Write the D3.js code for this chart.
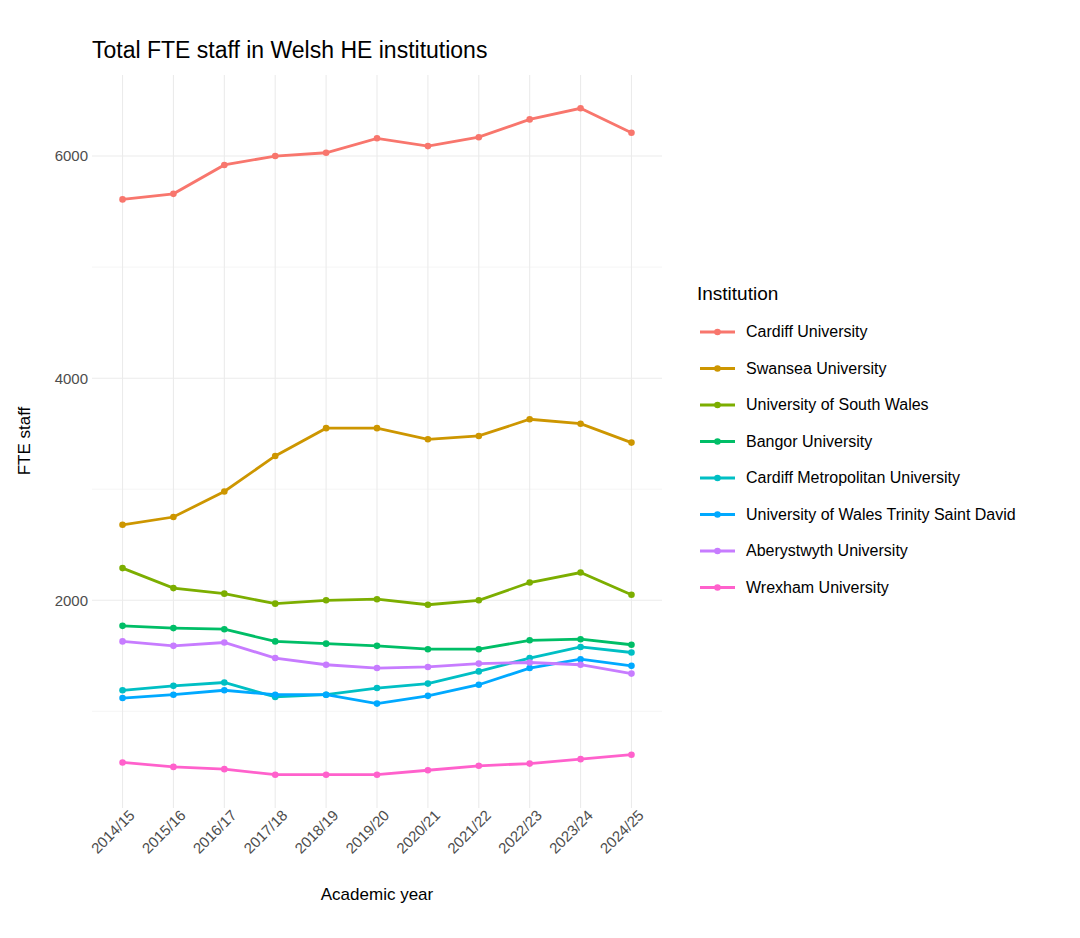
<!DOCTYPE html>
<html><head><meta charset="utf-8">
<script src="https://cdn.jsdelivr.net/npm/d3@7"></script>
<style>body{margin:0;background:#fff;font-family:"Liberation Sans",Arial,sans-serif}</style>
</head><body>
<svg id="chart" width="1080" height="938"></svg>
<script>
var years = ["2014/15","2015/16","2016/17","2017/18","2018/19","2019/20","2020/21","2021/22","2022/23","2023/24","2024/25"];
var institutions = ["Cardiff University","Swansea University","University of South Wales","Bangor University","Cardiff Metropolitan University","University of Wales Trinity Saint David","Aberystwyth University","Wrexham University"];
var colours = ["#F8766D","#CD9600","#7CAE00","#00BE67","#00BFC4","#00A9FF","#C77CFF","#FF61CC"];
var cardiff = [5610,5660,5920,6000,6030,6160,6090,6170,6330,6430,6210];
var swansea = [2680,2750,2980,3300,3550,3550,3450,3480,3630,3590,3420];
var southWales = [2290,2110,2060,1970,2000,2010,1960,2000,2160,2250,2050];
var bangor = [1770,1750,1740,1630,1610,1590,1560,1560,1640,1650,1600];
var cardiffMet = [1190,1230,1260,1130,1150,1210,1250,1360,1480,1580,1530];
var uwtsd = [1120,1150,1190,1150,1150,1070,1140,1240,1390,1470,1410];
var aberystwyth = [1630,1590,1620,1480,1420,1390,1400,1430,1440,1420,1340];
var wrexham = [540,500,480,430,430,430,470,510,530,570,610];
var series = [cardiff,swansea,southWales,bangor,cardiffMet,uwtsd,aberystwyth,wrexham];
var yTicks = [2000,4000,6000];

var svg = d3.select("#chart");
var pLeft = 92, pRight = 662, pTop = 75, pBottom = 808;

var x = d3.scalePoint().domain(years).range([pLeft, pRight]).padding(0.6);
var y = d3.scaleLinear().domain([130, 6730]).range([pBottom, pTop]);

// grid
var g = svg.append("g");
[1000,3000,5000].forEach(function(v){
  g.append("line").attr("x1",pLeft).attr("x2",pRight).attr("y1",y(v)).attr("y2",y(v)).attr("stroke","#f0f0f0").attr("stroke-width",0.6);
});
yTicks.forEach(function(v){
  g.append("line").attr("x1",pLeft).attr("x2",pRight).attr("y1",y(v)).attr("y2",y(v)).attr("stroke","#ebebeb").attr("stroke-width",1.1);
});
years.forEach(function(yr){
  g.append("line").attr("x1",x(yr)).attr("x2",x(yr)).attr("y1",pTop).attr("y2",pBottom).attr("stroke","#ebebeb").attr("stroke-width",1.1);
});

// axes
var yAxis = svg.append("g").attr("transform","translate(" + (pLeft-4) + ",0)")
  .call(d3.axisLeft(y).tickValues(yTicks).tickSize(0).tickPadding(0).tickFormat(d3.format("d")));
yAxis.select(".domain").remove();
yAxis.selectAll("text").attr("fill","#4d4d4d").style("font-size","15px");

var xAxis = svg.append("g").attr("transform","translate(0," + (pBottom+4) + ")")
  .call(d3.axisBottom(x).tickSize(0).tickPadding(0));
xAxis.select(".domain").remove();
xAxis.selectAll("text").attr("fill","#4d4d4d").style("font-size","15px")
  .attr("text-anchor","end").attr("dy","0.8em").attr("dx","0.4em")
  .attr("transform","rotate(-45)");

// lines
var line = d3.line().x(function(d,i){return x(years[i]);}).y(function(d){return y(d);});
series.forEach(function(s,k){
  svg.append("path").datum(s).attr("d",line).attr("fill","none").attr("stroke",colours[k]).attr("stroke-width",2.8);
  svg.selectAll(null).data(s).enter().append("circle")
    .attr("cx",function(d,i){return x(years[i]);}).attr("cy",function(d){return y(d);})
    .attr("r",3.3).attr("fill",colours[k]);
});

// titles
svg.append("text").attr("x",92).attr("y",58).style("font-size","23px").text("Total FTE staff in Welsh HE institutions");
svg.append("text").attr("x",377).attr("y",900).attr("text-anchor","middle").style("font-size","17px").text("Academic year");
svg.append("text").attr("transform","translate(30,441) rotate(-90)").attr("text-anchor","middle").style("font-size","17px").text("FTE staff");

// legend
var lg = svg.append("g");
lg.append("text").attr("x",697).attr("y",300).style("font-size","19px").text("Institution");
institutions.forEach(function(name,k){
  var ly = 332 + k*36.5;
  lg.append("line").attr("x1",700).attr("x2",735).attr("y1",ly).attr("y2",ly).attr("stroke",colours[k]).attr("stroke-width",2.8);
  lg.append("circle").attr("cx",717.5).attr("cy",ly).attr("r",3.3).attr("fill",colours[k]);
  lg.append("text").attr("x",746).attr("y",ly+5).style("font-size","16px").text(name);
});
</script>
</body></html>
